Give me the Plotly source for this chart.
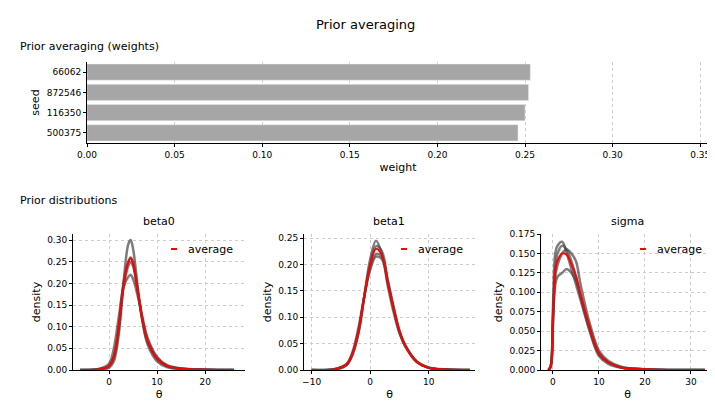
import plotly.graph_objects as go

seeds = ["66062", "872546", "116350", "500375"]
weights = [0.253, 0.252, 0.250, 0.246]

b0_x = [-6,-2,0,1,2,3,4,4.5,5,6,7,8,10,12,15,20,26]
b0 = [
 [0,0.001,0.005,0.02,0.08,0.20,0.29,0.30,0.28,0.19,0.11,0.06,0.02,0.007,0.002,0.0005,0],
 [0,0.002,0.01,0.03,0.10,0.20,0.25,0.26,0.25,0.18,0.11,0.065,0.025,0.009,0.003,0.0005,0],
 [0,0.003,0.015,0.05,0.12,0.19,0.215,0.22,0.21,0.17,0.12,0.075,0.03,0.012,0.004,0.001,0],
 [0,0.002,0.008,0.03,0.09,0.19,0.24,0.25,0.24,0.18,0.115,0.07,0.028,0.01,0.003,0.0008,0]]
b0_avg = [0,0.002,0.01,0.032,0.098,0.195,0.249,0.258,0.245,0.18,0.114,0.068,0.026,0.01,0.003,0.0007,0]

b1_x = [-10,-6,-4,-3,-2,-1,0,1,2,3,4,5,6,8,10,13,17]
b1 = [
 [0,0.001,0.01,0.03,0.07,0.14,0.21,0.245,0.22,0.16,0.11,0.07,0.045,0.015,0.004,0.001,0],
 [0,0.001,0.01,0.03,0.07,0.14,0.20,0.235,0.225,0.17,0.115,0.072,0.045,0.015,0.004,0.001,0],
 [0,0.002,0.012,0.035,0.08,0.14,0.19,0.215,0.21,0.17,0.12,0.075,0.047,0.016,0.005,0.001,0],
 [0,0.002,0.011,0.032,0.075,0.14,0.195,0.22,0.215,0.165,0.118,0.073,0.046,0.015,0.004,0.001,0]]
b1_avg = [0,0.0015,0.011,0.032,0.074,0.14,0.2,0.23,0.218,0.166,0.116,0.073,0.046,0.015,0.004,0.001,0]

sg_x = [-1,-0.5,0,0.5,1,2,3,4,5,6,8,10,12,15,20,25,33]
sg = [
 [0,0.005,0.08,0.15,0.16,0.165,0.15,0.13,0.11,0.09,0.05,0.02,0.01,0.003,0.001,0,0],
 [0,0.005,0.07,0.13,0.15,0.16,0.155,0.14,0.12,0.095,0.05,0.018,0.008,0.003,0.001,0,0],
 [0,0.004,0.06,0.12,0.135,0.15,0.155,0.15,0.14,0.11,0.06,0.025,0.012,0.004,0.001,0,0],
 [0,0.004,0.06,0.11,0.12,0.125,0.13,0.125,0.115,0.095,0.055,0.022,0.01,0.003,0.001,0,0]]
sg_avg = [0,0.0045,0.068,0.128,0.141,0.15,0.148,0.136,0.121,0.097,0.054,0.021,0.01,0.003,0.001,0,0]

fig = go.Figure()
fig.add_trace(go.Bar(y=seeds, x=weights, orientation="h", marker_color="#a6a6a6",
                     width=0.8, xaxis="x", yaxis="y", showlegend=False))

panels = [(b0_x, b0, b0_avg, "2"), (b1_x, b1, b1_avg, "3"), (sg_x, sg, sg_avg, "4")]
for xs, series, avg, ax in panels:
    for s in series:
        fig.add_trace(go.Scatter(x=xs, y=s, mode="lines", line=dict(color="rgba(70,70,70,0.7)", width=2.5, shape="spline"),
                                 xaxis="x"+ax, yaxis="y"+ax, showlegend=False))
    fig.add_trace(go.Scatter(x=xs, y=avg, mode="lines", line=dict(color="red", width=2, shape="spline"),
                             xaxis="x"+ax, yaxis="y"+ax, showlegend=False))

W, H = 715, 411
def fx(px): return px / W
def fy(py): return 1 - py / H

axstyle = dict(showline=True, linecolor="black", ticks="outside", ticklen=3, tickcolor="black",
               showgrid=True, gridcolor="#cccccc", griddash="dot", zeroline=False,
               tickfont=dict(size=9), automargin=False)
tf = dict(size=11)
lay = dict(
    width=W, height=H, margin=dict(l=0, r=0, t=0, b=0, autoexpand=False), plot_bgcolor="white", paper_bgcolor="white",
    font=dict(family="DejaVu Sans", size=11, color="black"),
    xaxis=dict(axstyle, domain=[fx(79), fx(701)], range=[0, 0.355], dtick=0.05, tickformat=".2f",
               anchor="y", title=dict(text="weight", standoff=4, font=tf)),
    yaxis=dict(axstyle, domain=[fy(135), fy(54)], autorange="reversed", anchor="x", showgrid=False,
               title=dict(text="seed", standoff=4, font=tf)),
)
specs = [("2", 65, 237, [-7.5, 28.3], 10, [0, 0.314], 0.05, ".2f"),
         ("3", 296, 467, [-11.3, 17.9], 10, [0, 0.258], 0.05, ".2f"),
         ("4", 533, 706, [-2.6, 35], 10, [0, 0.175], 0.025, ".3f")]
for ax, l, r, xr, xd, yr, yd, yf in specs:
    lay["xaxis"+ax] = dict(axstyle, domain=[fx(l), fx(r)], range=xr, dtick=xd, anchor="y"+ax,
                           title=dict(text="θ", standoff=4, font=tf))
    lay["yaxis"+ax] = dict(axstyle, domain=[fy(362), fy(226)], range=yr, dtick=yd, tickformat=yf,
                           anchor="x"+ax, title=dict(text="density", standoff=4, font=tf))
fig.update_layout(**lay)

ann = [dict(text="Prior averaging", x=0.5, y=fy(17), xanchor="center", yanchor="middle", font=dict(size=13)),
       dict(text="Prior averaging (weights)", x=fx(10), y=fy(38), xanchor="left", yanchor="middle"),
       dict(text="Prior distributions", x=fx(10), y=fy(192), xanchor="left", yanchor="middle")]
for name, l, r in [("beta0", 65, 237), ("beta1", 296, 467), ("sigma", 533, 706)]:
    ann.append(dict(text=name, x=fx((l + r) / 2), y=fy(213), xanchor="center", yanchor="middle"))
    ann.append(dict(text="average", x=fx(r - 10), y=fy(242), xanchor="right", yanchor="middle"))
    fig.add_shape(type="line", xref="paper", yref="paper", x0=fx(r - 74), x1=fx(r - 68),
                  y0=fy(241), y1=fy(241), line=dict(color="red", width=2))
for a in ann:
    a.update(xref="paper", yref="paper", showarrow=False)
fig.update_layout(annotations=ann)
fig.write_html("out.html")
